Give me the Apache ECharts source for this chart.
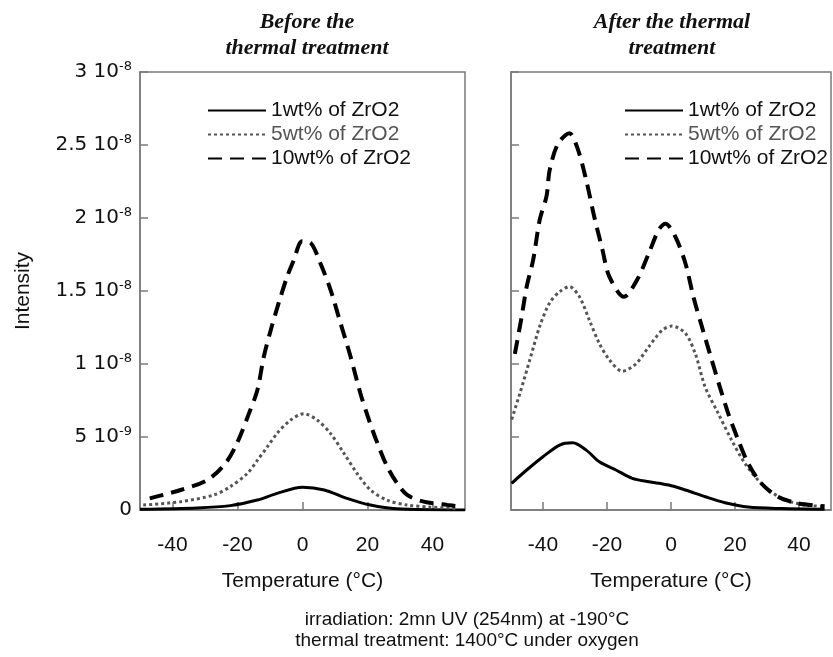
<!DOCTYPE html>
<html lang="en">
<head>
    <meta charset="utf-8">
    <title>ZrO2 intensity</title>
    <script src="https://cdn.jsdelivr.net/npm/echarts@6/dist/echarts.min.js"></script>
    <style>
        html, body { margin: 0; padding: 0; background: #fff; }
        #chart { width: 833px; height: 657px; }
    </style>
</head>
<body>
<div id="chart"></div>

<script>
    // names of the three samples
    var seriesNames = ['1wt% of ZrO2', '5wt% of ZrO2', '10wt% of ZrO2'];

    // tick labels
    var xTicks = [-40, -20, 0, 20, 40];
    var yTickMant = ['0', '5', '1', '1.5', '2', '2.5', '3'];
    var yTickExp = ['', '-9', '-8', '-8', '-8', '-8', '-8'];

    // before the thermal treatment: [temperature, intensity]
    var before1 = [[-50, 0.05e-9], [-32.4, 0.14e-9], [-22.2, 0.3e-9], [-13.9, 0.68e-9], [-7.8, 1.14e-9],
        [0, 1.55e-9], [6.7, 1.37e-9], [13.7, 0.8e-9], [20.9, 0.34e-9], [29, 0.08e-9], [50, 0]];
    var before5 = [[-49, 0.34e-9], [-37.5, 0.57e-9], [-27.3, 1.03e-9], [-22.2, 1.6e-9], [-17, 2.5e-9],
        [-13.9, 3.4e-9], [-10.9, 4.3e-9], [-7.8, 5.25e-9], [-3.7, 6.16e-9], [0.4, 6.6e-9], [4.5, 6.16e-9],
        [8.6, 5.25e-9], [12.7, 3.9e-9], [16.8, 2.5e-9], [20.9, 1.37e-9], [26, 0.68e-9], [32.2, 0.34e-9],
        [39.2, 0.2e-9], [48, 0.1e-9]];
    var before10 = [[-47, 0.8e-9], [-37.5, 1.37e-9], [-29.3, 2.05e-9], [-23.7, 3.2e-9], [-20.1, 4.6e-9],
        [-16.5, 6.6e-9], [-13.9, 8.2e-9], [-11.9, 10.5e-9], [-9.8, 12.3e-9], [-7.3, 14.2e-9], [-4.7, 16.0e-9],
        [-2.7, 17.1e-9], [-0.1, 18.4e-9], [2.5, 18.3e-9], [5.5, 16.9e-9], [8.6, 15.1e-9], [11.7, 12.8e-9],
        [14.8, 10.5e-9], [17.8, 8.0e-9], [20.4, 6.2e-9], [23, 4.6e-9], [26, 3.0e-9], [29.1, 1.83e-9],
        [32.2, 1.03e-9], [37.3, 0.57e-9], [44.5, 0.35e-9], [48, 0.25e-9]];

    // after the thermal treatment
    var after1 = [[-49.8, 1.83e-9], [-45.1, 2.74e-9], [-40, 3.65e-9], [-34.8, 4.45e-9], [-30.7, 4.6e-9],
        [-26.5, 4.1e-9], [-22.4, 3.3e-9], [-17.2, 2.74e-9], [-12.1, 2.17e-9], [-6.9, 1.94e-9], [-0.7, 1.71e-9],
        [4.5, 1.37e-9], [10.7, 0.91e-9], [16.9, 0.5e-9], [24.1, 0.2e-9], [34.5, 0.1e-9], [48, 0.05e-9]];
    var after5 = [[-49.8, 6.2e-9], [-47.2, 8.0e-9], [-44.1, 10.3e-9], [-41, 12.6e-9], [-37.9, 14.2e-9],
        [-34.8, 14.95e-9], [-31.7, 15.3e-9], [-28.6, 14.6e-9], [-25.5, 13.0e-9], [-22.4, 11.4e-9],
        [-19.3, 10.3e-9], [-15.2, 9.5e-9], [-11, 10.0e-9], [-6.9, 11.2e-9], [-2.8, 12.3e-9], [0.3, 12.6e-9],
        [4.5, 12.1e-9], [7.6, 10.7e-9], [10.7, 8.4e-9], [14.8, 6.6e-9], [18.9, 4.8e-9], [23.1, 3.2e-9],
        [28.2, 1.83e-9], [34.5, 0.8e-9], [41.7, 0.34e-9], [48, 0.25e-9]];
    var after10 = [[-48.8, 10.7e-9], [-46.7, 13.2e-9], [-45.1, 15.3e-9], [-43.1, 17.1e-9], [-41, 19.9e-9],
        [-38.9, 21.5e-9], [-37.9, 23.3e-9], [-35.3, 25.1e-9], [-31.7, 25.8e-9], [-29.1, 24.7e-9],
        [-26.5, 22.6e-9], [-24, 20.1e-9], [-21.4, 17.8e-9], [-19.3, 16.0e-9], [-14.7, 14.6e-9],
        [-10.5, 15.8e-9], [-6.9, 17.6e-9], [-3.8, 19.2e-9], [-1.7, 19.6e-9], [1.4, 18.7e-9], [4.5, 16.9e-9],
        [7, 14.6e-9], [9.6, 12.6e-9], [12.7, 10.3e-9], [15.3, 8.4e-9], [17.9, 6.6e-9], [21, 4.8e-9],
        [24.1, 3.2e-9], [28.2, 1.83e-9], [33.4, 0.9e-9], [39.6, 0.46e-9], [48, 0.25e-9]];

    var FONT = 'Liberation Sans, Arial, sans-serif';
    var WIDE = 'DejaVu Sans, sans-serif';
    var AXIS = '#7a7a7a';

    var styles = [
        { color: '#000', width: 3, type: 'solid' },
        { color: '#555', width: 3, type: [3, 3] },
        { color: '#000', width: 4, type: [14, 8] }
    ];

    function xAxisOf(gi) {
        return {
            type: 'value', gridIndex: gi, min: -50, max: 50,
            name: 'Temperature (°C)', nameLocation: 'middle', nameGap: 61,
            nameTextStyle: { fontFamily: FONT, fontSize: 21, color: '#111' },
            axisLine: { onZero: false, lineStyle: { color: AXIS, width: 1.5 } },
            axisTick: { inside: true, length: 8, customValues: xTicks, lineStyle: { color: AXIS, width: 1.5 } },
            axisLabel: { customValues: xTicks, margin: 25, fontFamily: FONT, fontSize: 21, color: '#111' },
            splitLine: { show: false }
        };
    }

    function yAxisOf(gi, withLabels) {
        return {
            type: 'value', gridIndex: gi, min: 0, max: 3e-8, interval: 5e-9,
            name: withLabels ? 'Intensity' : '', nameLocation: 'middle', nameGap: 106,
            nameTextStyle: { fontFamily: FONT, fontSize: 21, color: '#111' },
            axisLine: { onZero: false, lineStyle: { color: AXIS, width: 1.5 } },
            axisTick: { inside: true, length: 8, lineStyle: { color: AXIS, width: 1.5 } },
            axisLabel: {
                show: withLabels, margin: 8, color: '#111',
                formatter: function (v) {
                    var i = Math.round(v / 5e-9);
                    if (!yTickExp[i]) return '{a|' + yTickMant[i] + '}';
                    return '{a|' + yTickMant[i] + ' 10}{s|' + yTickExp[i] + '}';
                },
                rich: {
                    a: { fontFamily: WIDE, fontSize: 20, color: '#111' },
                    s: { fontFamily: WIDE, fontSize: 13, color: '#111', padding: [0, 0, 10, 0] }
                }
            },
            splitLine: { show: false }
        };
    }

    function seriesOf(gi, arrays) {
        return arrays.map(function (d, k) {
            return {
                name: seriesNames[k], type: 'line', xAxisIndex: gi, yAxisIndex: gi,
                data: d, symbol: 'none', smooth: 0.3, z: 3 + k,
                lineStyle: styles[k], itemStyle: { color: styles[k].color }
            };
        });
    }

    function legendOf(left) {
        return {
            orient: 'vertical', left: left, top: 95,
            itemWidth: 58, itemHeight: 14, itemGap: 3,
            itemStyle: { opacity: 0 },
            textStyle: { fontFamily: FONT, fontSize: 21, color: '#111', lineHeight: 21 },
            data: [
                { name: seriesNames[0] },
                { name: seriesNames[1], textStyle: { color: '#555' } },
                { name: seriesNames[2] }
            ]
        };
    }

    var chart = echarts.init(document.getElementById('chart'));
    chart.setOption({
        animation: false,
        backgroundColor: '#fff',
        grid: [
            { left: 140, right: 368, top: 72, bottom: 147, show: true, borderColor: AXIS, borderWidth: 1.5 },
            { left: 511, right: 2, top: 72, bottom: 147, show: true, borderColor: AXIS, borderWidth: 1.5 }
        ],
        legend: [legendOf(202), legendOf(619)],
        xAxis: [xAxisOf(0), xAxisOf(1)],
        yAxis: [yAxisOf(0, true), yAxisOf(1, false)],
        series: seriesOf(0, [before1, before5, before10]).concat(seriesOf(1, [after1, after5, after10])),
        graphic: [
            {
                type: 'text', x: 307, y: 9,
                style: {
                    text: 'Before the\nthermal treatment', textAlign: 'center',
                    font: 'italic bold 22px "Liberation Serif", serif', lineHeight: 26, fill: '#111'
                }
            },
            {
                type: 'text', x: 672, y: 9,
                style: {
                    text: 'After the thermal\ntreatment', textAlign: 'center',
                    font: 'italic bold 22px "Liberation Serif", serif', lineHeight: 26, fill: '#111'
                }
            },
            {
                type: 'text', x: 467, y: 609,
                style: {
                    text: 'irradiation: 2mn UV (254nm) at -190°C\nthermal treatment: 1400°C under oxygen',
                    textAlign: 'center', font: '19px "Liberation Sans", Arial, sans-serif',
                    lineHeight: 21, fill: '#111'
                }
            }
        ]
    });
</script>
</body>
</html>
